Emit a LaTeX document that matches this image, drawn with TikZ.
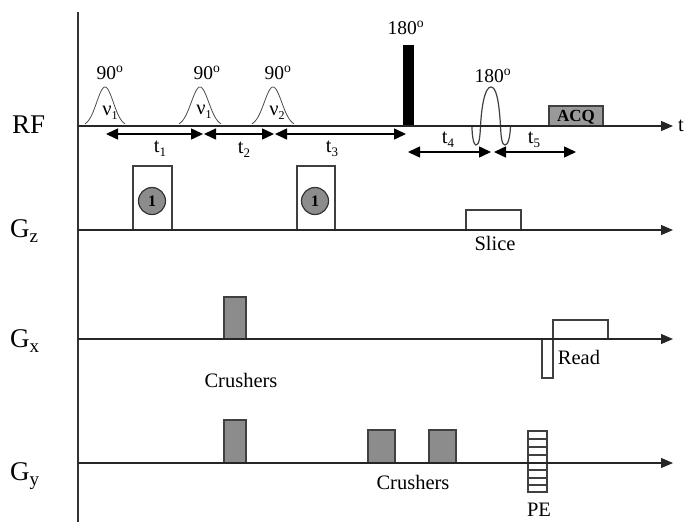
\documentclass[tikz,border=0pt]{standalone}
\usepackage{fontspec}
\setmainfont{Liberation Serif}
\usetikzlibrary{arrows.meta}
\tikzset{
  axisline/.style={draw=black!85,line width=1.2pt,-{Triangle[length=12pt,width=10pt]}},
  timearrow/.style={draw=black,line width=1.5pt,{Triangle[length=12pt,width=11pt]}-{Triangle[length=12pt,width=11pt]}},
  pulse/.style={draw=black!75,line width=1.2pt},
  crusher/.style={draw=black!75,line width=1.2pt,fill=black!45},
  rfcurve/.style={draw=black!70,line width=.8pt},
  lab/.style={inner sep=0pt,font=\fontsize{20.5}{21}\selectfont},
  deg/.style={inner sep=0pt,font=\fontsize{19.5}{20}\selectfont},
  biglab/.style={inner sep=0pt,anchor=base west,font=\fontsize{27}{27}\selectfont},
  circ/.style={circle,draw=black!80,line width=1.2pt,fill=black!45,minimum size=27pt,inner sep=0pt,font=\fontsize{16}{16}\selectfont\bfseries}
}
\newcommand{\gauss}[2]{% centre, half width
  \draw[rfcurve] plot[domain=-#2:#2,samples=41,smooth] ({#1+\x},{126-39*exp(-(\x*\x)/(2*(#2/2.4)*(#2/2.4)))});}
\newcommand{\sbs}[3]{\raisebox{-#1}{\fontsize{#2}{#2}\selectfont #3}}
\begin{document}
\begin{tikzpicture}[x=1pt,y=-1pt]
\useasboundingbox (0,0) rectangle (684,522);
% axes
\coordinate (vtop) at (78,12); \coordinate (vbot) at (78,522);
\draw[line width=1.3pt,black!80] (vtop) -- (vbot);
\coordinate (rf0) at (78,126); \coordinate (rf1) at (673,126);
\coordinate (gz0) at (78,230); \coordinate (gz1) at (673,230);
\coordinate (gx0) at (78,339); \coordinate (gx1) at (673,339);
\coordinate (gy0) at (78,463); \coordinate (gy1) at (673,463);
% pulses under axes
\draw[fill=black,draw=black] (403,45) rectangle (413,126);
\draw[crusher,fill=black!40] (549,106) rectangle (603,126);
\node[inner sep=0pt,font=\fontsize{17}{17}\selectfont\bfseries] (acq) at (576,117) {ACQ};
\gauss{105}{20}
\gauss{200}{21}
\gauss{273}{21}
\node[deg] (a1) at (110,73) {90\textsuperscript{o}};
\node[deg] (a2) at (207,73) {90\textsuperscript{o}};
\node[deg] (a3) at (278,73) {90\textsuperscript{o}};
\node[deg] (a4) at (406,28) {180\textsuperscript{o}};
\node[deg] (a5) at (493,76) {180\textsuperscript{o}};
\node[lab] (n1) at (110,113) {ν\sbs{4pt}{12}{1}};
\node[lab] (n2) at (204,112) {ν\sbs{4pt}{12}{1}};
\node[lab] (n3) at (277,113) {ν\sbs{4pt}{12}{2}};
% sinc
\draw[pulse] (472,126) .. controls (472,138) and (474,145) .. (476,145)
  .. controls (479,145) and (480,138) .. (480.5,126)
  .. controls (482,100) and (486,87) .. (491,87)
  .. controls (496,87) and (499,100) .. (500.5,126)
  .. controls (501,138) and (502,145) .. (505,145)
  .. controls (508,145) and (510,138) .. (510.5,126);
% time arrows
\coordinate (t1a) at (106,134); \coordinate (t1b) at (203,134);
\coordinate (t2a) at (204,134); \coordinate (t2b) at (274,134);
\coordinate (t3a) at (275,134); \coordinate (t3b) at (406,134);
\coordinate (t4a) at (408,152); \coordinate (t4b) at (491,152);
\coordinate (t5a) at (494,152); \coordinate (t5b) at (576,152);
\draw[timearrow] (t1a) -- (t1b);
\draw[timearrow] (t2a) -- (t2b);
\draw[timearrow] (t3a) -- (t3b);
\draw[timearrow] (t4a) -- (t4b);
\draw[timearrow] (t5a) -- (t5b);
\node[lab] (l1) at (160,149) {t\sbs{4pt}{13}{1}};
\node[lab] (l2) at (244,150) {t\sbs{4pt}{13}{2}};
\node[lab] (l3) at (332,149) {t\sbs{4pt}{13}{3}};
\node[lab] (l4) at (448,140) {t\sbs{4pt}{13}{4}};
\node[lab] (l5) at (534,140) {t\sbs{4pt}{13}{5}};
\node[lab] (lt) at (681,126) {t};
% Gz
\draw[pulse] (133,230) |- (172,166) -- (172,230);
\draw[pulse] (297,230) |- (335,166) -- (335,230);
\node[circ] (c1) at (152,201) {1};
\node[circ] (c2) at (315,201) {1};
\draw[pulse] (466,230) |- (521,210) -- (521,230);
\node[lab] (slice) at (495,243) {Slice};
% Gx
\draw[crusher] (224,297) rectangle (246,339);
\node[lab] (cr1) at (241,380) {Crushers};
\draw[pulse] (553,339) |- (608,320) -- (608,339);
\draw[pulse] (542,339) |- (553,378) -- (553,339);
\node[lab] (read) at (579,357) {Read};
% Gy
\draw[crusher] (224,420) rectangle (246,463);
\draw[crusher] (368,430) rectangle (395,463);
\draw[crusher] (429,430) rectangle (456,463);
\node[lab] (cr2) at (413,482) {Crushers};
\draw[pulse] (528,431) rectangle (547,492);
\foreach \yy in {439,447,455,463,470,478,485} \draw[pulse] (528,\yy) -- (547,\yy);
\node[lab] (pe) at (539,510) {PE};
% axis lines
\draw[axisline] (rf0) -- (rf1);
\draw[axisline] (gz0) -- (gz1);
\draw[axisline] (gx0) -- (gx1);
\draw[axisline] (gy0) -- (gy1);
% channel labels
\node[biglab] (lrf) at (12,133) {RF};
\node[biglab] (lgz) at (10,237) {G\sbs{5pt}{19}{z}};
\node[biglab] (lgx) at (10,347) {G\sbs{5pt}{19}{x}};
\node[biglab] (lgy) at (10,480) {G\sbs{5pt}{19}{y}};
\end{tikzpicture}
\end{document}
